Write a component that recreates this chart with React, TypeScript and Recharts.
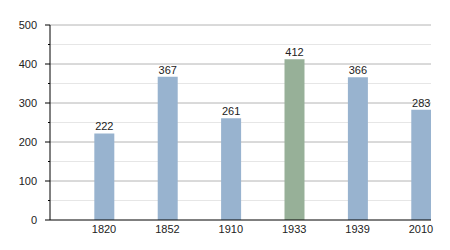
import { BarChart, Bar, XAxis, YAxis, Cell, LabelList, CartesianGrid } from 'recharts';

const YEARS = ['1820', '1852', '1910', '1933', '1939', '2010'];
const VALUES = [222, 367, 261, 412, 366, 283];
const HIGHLIGHT = '1933';
const Y_TICKS = [0, 50, 100, 150, 200, 250, 300, 350, 400, 450, 500];
const MAJOR_GRID = [100, 200, 300, 400, 500];
const MINOR_GRID = [50, 150, 250, 350, 450];

const BLUE = '#98b3cf';
const GREEN = '#97b098';
const FONT = '"Liberation Sans", Arial, sans-serif';

const data = YEARS.map((year, i) => ({ idx: i, year, value: VALUES[i] }));

function YTick(props: any) {
  const { x, y, payload } = props;
  const v = payload.value as number;
  const major = v % 100 === 0;
  const axisX = x + 9;
  return (
    <g>
      <line x1={axisX - (major ? 5 : 2)} x2={axisX} y1={y} y2={y} stroke="#000" />
      {major && (
        <text x={x - 4} y={y} dy="0.35em" textAnchor="end" fontSize={11} fontFamily={FONT} fill="#222">
          {v}
        </text>
      )}
    </g>
  );
}

export default function App() {
  return (
    <div style={{ position: 'absolute', left: 0, top: 0, background: '#fff' }}>
      <BarChart width={450} height={250} data={data} margin={{ top: 25, right: 19, left: 0, bottom: 0 }}>
        <CartesianGrid vertical={false} horizontalValues={MINOR_GRID} stroke="#e6e6e6" />
        <CartesianGrid vertical={false} horizontalValues={MAJOR_GRID} stroke="#b4b4b4" />
        <XAxis
          dataKey="idx"
          type="number"
          domain={[-0.852, 5.158]}
          ticks={[0, 1, 2, 3, 4, 5]}
          tickFormatter={(i: number) => YEARS[i]}
          allowDataOverflow
          height={30}
          tickSize={0}
          tickMargin={5}
          tickLine={false}
          axisLine={{ stroke: '#000' }}
          tick={{ fontSize: 11, fontFamily: FONT, fill: '#222' }}
        />
        <YAxis
          domain={[0, 500]}
          ticks={Y_TICKS}
          interval={0}
          width={50}
          tickSize={5}
          tickMargin={4}
          tickLine={false}
          axisLine={{ stroke: '#000' }}
          tick={<YTick />}
        />
        <Bar dataKey="value" barSize={20} isAnimationActive={false}>
          {data.map((d) => (
            <Cell key={d.year} fill={d.year === HIGHLIGHT ? GREEN : BLUE} />
          ))}
          <LabelList dataKey="value" position="top" offset={3} fontSize={11} fontFamily={FONT} fill="#222" />
        </Bar>
      </BarChart>
    </div>
  );
}
